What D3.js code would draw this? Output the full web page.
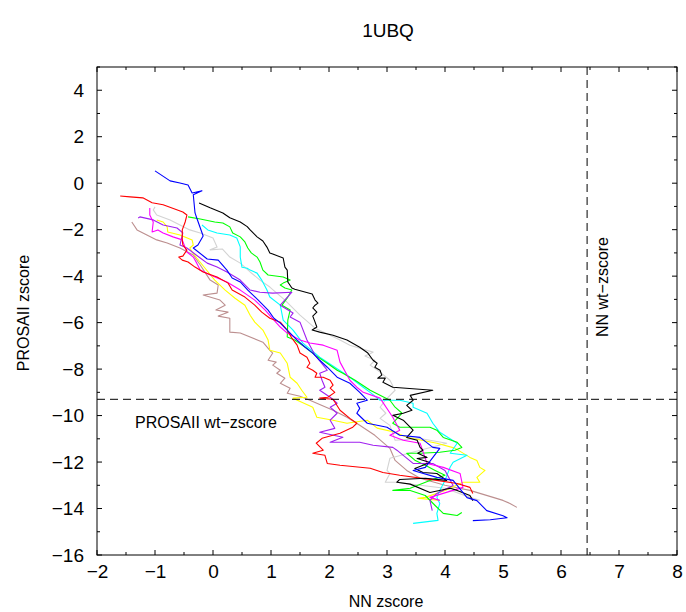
<!DOCTYPE html>
<html>
<head>
<meta charset="utf-8">
<script src="https://cdn.jsdelivr.net/npm/d3@7"></script>
<style>
  html, body { margin: 0; padding: 0; background: #fff; }
  svg { display: block; font-family: "Liberation Sans", Arial, sans-serif; }
</style>
</head>
<body>
<svg id="chart" width="686" height="612"></svg>
<script>
// ---- Data (NN zscore = x, PROSAII zscore = y) ----
const titleText = "1UBQ";
const xTicks = [-2, -1, 0, 1, 2, 3, 4, 5, 6, 7, 8];
const yTicks = [-16, -14, -12, -10, -8, -6, -4, -2, 0, 2, 4];
const nnWtZscore = 6.45;
const prosaWtZscore = -9.3;

const seriesNames = ["rosybrown", "lightgray", "yellow", "cyan", "green", "purple", "magenta", "red", "black", "blue"];
const seriesColors = ["#bc8f8f", "#d3d3d3", "#ffff00", "#00ffff", "#00ff00", "#a020f0", "#ff00ff", "#ff0000", "#000000", "#0000ff"];

const brownX = [-1.40,-1.31,-1.14,-0.97,-0.79,-0.57,-0.34,-0.22,-0.05,0.09,0.07,-0.17,0.12,0.21,0.05,0.26,0.09,0.29,0.29,0.47,0.86,0.98,1.03,0.95,1.09,1.03,1.16,1.10,1.24,1.16,1.33,1.28,1.50,1.67,2.07,2.31,2.53,2.79,3.05,3.14,3.34,3.57,4.00,4.43,4.83,5.00,5.12,5.24];
const brownY = [-1.67,-2.01,-2.23,-2.44,-2.57,-2.79,-3.09,-3.52,-4.17,-4.38,-4.73,-4.81,-5.03,-5.25,-5.46,-5.55,-5.72,-5.81,-6.41,-6.45,-6.84,-7.19,-7.31,-7.62,-7.70,-7.83,-8.05,-8.18,-8.39,-8.61,-8.82,-9.04,-9.17,-9.34,-9.77,-10.07,-10.42,-10.85,-11.41,-11.93,-12.36,-12.70,-13.00,-13.22,-13.52,-13.65,-13.78,-13.95];

const grayX = [-1.00,-1.03,-0.97,-0.74,-0.57,-0.40,-0.22,0.00,0.07,-0.05,0.16,0.29,0.47,0.64,0.81,0.98,1.24,1.50,1.76,2.02,2.19,2.36,2.53,2.76,2.62,2.79,2.71,2.88,3.05,3.14,2.97,2.88,2.98,2.88,3.05,3.14,3.57,4.03,3.57,3.05,3.00,3.05,2.97,3.17,3.57,4.00,4.43,4.60];
const grayY = [-1.02,-1.15,-1.37,-1.58,-1.80,-2.01,-2.14,-2.36,-2.75,-2.87,-2.83,-3.18,-3.44,-3.82,-4.17,-4.47,-5.03,-5.68,-6.24,-6.54,-6.75,-6.97,-7.10,-7.27,-7.44,-7.62,-7.83,-8.13,-8.48,-8.91,-9.34,-9.64,-9.90,-10.12,-10.42,-11.06,-10.99,-11.19,-11.49,-11.84,-12.36,-12.49,-12.87,-12.87,-13.00,-13.13,-13.52,-13.65];

const yellowX = [-0.97,-0.86,-0.79,-0.78,-0.57,-0.36,-0.34,-0.40,-0.36,-0.28,-0.14,0.03,0.21,0.38,0.55,0.64,0.72,0.86,0.95,0.98,1.16,1.28,1.33,1.45,1.53,1.62,1.38,1.72,1.79,2.07,2.31,2.66,2.83,3.14,3.34,3.86,4.17,4.43,4.55,4.60,4.69,4.55,4.60,4.31,4.00,3.66,3.53,3.91];
const yellowY = [-1.58,-1.67,-1.88,-2.10,-2.23,-2.44,-2.66,-2.79,-2.96,-3.22,-3.65,-4.17,-4.60,-4.95,-5.25,-5.68,-5.98,-6.32,-6.75,-7.19,-7.31,-7.75,-8.35,-8.61,-8.91,-9.21,-9.25,-9.64,-10.07,-10.20,-10.33,-10.20,-10.54,-10.72,-10.93,-11.19,-11.40,-11.80,-11.93,-12.23,-12.36,-12.66,-12.87,-12.87,-13.22,-13.52,-13.56,-13.65];

const cyanX = [-0.19,-0.09,0.07,0.29,0.41,0.47,0.47,0.50,0.59,0.64,0.76,0.84,0.93,0.98,1.16,1.21,1.38,1.55,1.84,2.10,2.36,2.59,2.71,2.88,3.10,3.22,3.45,3.45,3.69,3.79,3.91,4.21,4.09,4.38,4.14,4.09,4.00,3.91,3.86,3.91,3.86,3.88,3.45];
const cyanY = [-1.80,-2.01,-2.14,-2.23,-2.36,-2.74,-3.18,-3.62,-3.66,-3.74,-3.87,-4.17,-4.60,-4.90,-5.25,-5.89,-6.32,-6.88,-7.49,-7.92,-8.35,-8.78,-9.00,-9.34,-9.34,-9.34,-9.47,-9.64,-9.90,-10.33,-10.72,-11.19,-11.62,-11.71,-12.01,-12.21,-12.79,-13.22,-13.52,-13.78,-14.21,-14.51,-14.64];

const greenX = [-0.43,-0.22,0.03,0.17,0.29,0.34,0.47,0.55,0.60,0.66,0.76,0.81,0.86,0.95,1.21,1.33,1.21,1.16,1.24,1.36,1.29,1.19,1.33,1.29,1.28,1.41,1.59,1.76,1.97,2.14,2.24,2.45,2.71,3.05,3.14,3.26,3.10,3.22,3.45,3.74,3.86,3.97,4.21,4.29,4.17,3.91,3.57,3.34,3.48,3.66,3.83,4.00,3.74,3.40,3.10,3.40,3.66,3.83,3.97,4.21,4.29];
const greenY = [-1.45,-1.54,-1.67,-1.71,-1.88,-2.14,-2.31,-2.53,-2.79,-3.00,-3.18,-3.39,-3.74,-3.95,-4.04,-4.17,-4.30,-4.38,-4.51,-4.60,-4.90,-5.25,-5.46,-5.89,-6.62,-6.75,-7.06,-7.40,-7.75,-8.05,-8.18,-8.48,-8.91,-9.34,-9.64,-9.90,-10.33,-10.50,-10.50,-10.50,-10.63,-10.94,-11.15,-11.37,-11.49,-11.58,-11.62,-11.62,-11.92,-12.14,-12.36,-12.57,-12.79,-13.13,-13.22,-13.22,-13.44,-13.87,-14.21,-14.30,-14.17];

const purpleX = [-1.29,-1.26,-1.03,-0.86,-0.62,-0.52,-0.57,-0.45,-0.22,-0.10,0.07,0.24,0.47,0.64,0.81,1.03,1.36,1.16,1.38,1.33,1.50,1.62,1.76,1.97,1.84,1.88,1.93,1.84,2.02,2.14,2.02,2.14,2.02,2.10,1.84,2.24,2.02,2.53,2.76,3.10,3.17,3.45,3.79,4.00,4.14,3.86,3.74,3.78];
const purpleY = [-1.50,-1.45,-1.58,-1.80,-1.93,-2.14,-2.66,-2.79,-3.22,-3.44,-3.61,-3.82,-4.17,-4.60,-4.69,-4.73,-4.69,-5.25,-5.59,-5.76,-5.98,-6.75,-7.40,-8.05,-8.18,-8.48,-8.78,-8.91,-9.21,-9.47,-9.64,-9.90,-10.20,-10.55,-10.72,-10.93,-11.15,-11.15,-11.28,-11.37,-11.49,-12.06,-12.06,-12.36,-13.01,-13.35,-13.65,-14.09];

const magentaX = [-1.09,-1.09,-1.03,-1.05,-0.95,-0.86,-0.69,-0.53,-0.45,-0.34,-0.28,-0.22,-0.05,0.24,0.47,0.72,0.90,1.02,1.16,1.28,1.50,1.67,1.90,2.14,2.19,2.36,2.48,2.59,2.88,3.10,3.22,3.05,3.28,3.57,3.69,3.97,4.26,4.31,3.74,3.91];
const magentaY = [-1.07,-1.37,-1.67,-2.10,-2.01,-2.14,-2.31,-2.44,-2.96,-3.18,-3.44,-3.74,-3.95,-4.25,-4.60,-5.03,-5.46,-5.81,-6.19,-6.45,-6.75,-6.88,-6.97,-7.19,-7.70,-8.48,-8.78,-9.00,-9.25,-10.07,-10.63,-10.85,-11.06,-11.19,-12.06,-12.23,-12.49,-13.09,-13.52,-13.65];

const redX = [-1.60,-1.43,-1.21,-1.05,-0.86,-0.52,-0.45,-0.48,-0.53,-0.53,-0.52,-0.45,-0.52,-0.59,-0.53,-0.43,-0.31,-0.17,0.07,0.26,0.33,0.55,0.72,0.84,0.98,1.16,1.28,1.36,1.45,1.50,1.62,1.67,1.62,1.72,1.79,1.76,1.90,2.02,2.07,2.02,2.10,1.98,1.84,2.07,2.19,2.36,2.48,2.41,2.19,1.88,1.78,1.90,1.72,1.93,1.97,2.19,2.71,2.93,3.22,3.86,4.21,4.43,4.48];
const redY = [-0.55,-0.59,-0.63,-0.84,-0.93,-1.24,-1.37,-1.67,-2.01,-2.45,-2.66,-2.88,-3.14,-3.18,-3.31,-3.39,-3.61,-3.82,-4.04,-4.30,-4.60,-4.90,-5.25,-5.55,-5.81,-5.98,-6.32,-6.67,-6.97,-7.31,-7.49,-7.75,-7.92,-8.05,-8.18,-8.35,-8.35,-8.48,-8.69,-8.82,-9.00,-9.21,-9.25,-9.30,-9.77,-10.12,-10.33,-10.50,-10.76,-10.98,-11.19,-11.49,-11.62,-11.71,-12.06,-12.14,-12.27,-12.45,-12.57,-12.79,-12.92,-13.09,-13.35];

const blackX = [-0.24,-0.05,0.17,0.29,0.47,0.59,0.64,0.76,0.86,0.93,0.98,1.03,1.21,1.24,1.28,1.29,1.36,1.41,1.71,1.76,1.81,1.76,1.72,1.79,1.72,1.76,1.79,1.71,1.84,2.07,2.31,2.53,2.67,2.76,2.83,2.79,2.88,2.91,2.84,2.97,2.93,3.10,3.79,3.40,3.45,3.34,3.43,3.28,3.10,3.28,3.45,3.34,3.52,3.57,3.62,3.53,3.69,3.52,3.74,3.48,3.62,3.86,4.03,3.66,3.22,3.17,3.40,3.74,4.09,4.21,4.43,4.48];
const blackY = [-0.85,-1.06,-1.28,-1.49,-1.67,-1.87,-2.01,-2.31,-2.49,-2.75,-3.00,-3.05,-3.22,-3.61,-3.74,-4.25,-4.51,-4.56,-4.77,-5.03,-5.16,-5.25,-5.37,-5.55,-5.72,-5.98,-6.19,-6.32,-6.41,-6.54,-6.75,-7.06,-7.31,-7.62,-7.75,-7.92,-8.05,-8.26,-8.39,-8.39,-8.57,-8.78,-8.91,-9.13,-9.34,-9.56,-9.77,-9.90,-9.99,-10.20,-10.63,-10.94,-11.06,-11.37,-11.49,-11.62,-11.80,-11.85,-12.02,-12.28,-12.45,-12.49,-12.79,-12.70,-12.75,-12.87,-12.95,-13.31,-13.13,-13.22,-13.44,-13.66];

const blueX = [-1.00,-0.74,-0.57,-0.43,-0.36,-0.19,-0.34,-0.31,-0.28,-0.17,-0.26,-0.34,-0.10,0.09,0.24,0.33,0.47,0.60,0.78,0.95,1.05,1.16,1.33,1.45,1.59,1.72,1.84,1.97,2.14,2.36,2.53,2.66,2.48,2.53,2.48,2.66,3.00,3.22,3.57,3.79,3.91,3.66,3.45,3.86,4.14,4.38,4.55,4.72,5.00,5.07,4.78,4.48];
const blueY = [0.53,0.10,0.01,-0.08,-0.42,-0.33,-0.50,-1.28,-1.50,-2.27,-2.66,-2.79,-3.26,-3.31,-3.74,-4.08,-4.25,-4.60,-5.03,-5.46,-5.81,-6.02,-6.45,-6.75,-7.06,-7.31,-7.62,-7.92,-8.35,-8.61,-9.00,-9.34,-9.47,-9.69,-9.90,-10.33,-10.50,-10.85,-10.94,-11.37,-11.41,-12.23,-12.36,-12.66,-12.79,-13.53,-13.66,-14.09,-14.31,-14.40,-14.48,-14.52];

const seriesX = [brownX, grayX, yellowX, cyanX, greenX, purpleX, magentaX, redX, blackX, blueX];
const seriesY = [brownY, grayY, yellowY, cyanY, greenY, purpleY, magentaY, redY, blackY, blueY];

// ---- Layout ----
const W = 686, H = 612;
const margin = { left: 97, right: 9, top: 67, bottom: 57 };
const innerW = W - margin.left - margin.right;
const innerH = H - margin.top - margin.bottom;

const svg = d3.select("#chart");
const x = d3.scaleLinear().domain([-2, 8]).range([margin.left, margin.left + innerW]);
const y = d3.scaleLinear().domain([-16, 5]).range([margin.top + innerH, margin.top]);

const defs = svg.append("defs");
defs.append("clipPath").attr("id", "clip")
  .append("rect").attr("x", margin.left).attr("y", margin.top).attr("width", innerW).attr("height", innerH);

// Title
svg.append("text").attr("x", 388).attr("y", 37).attr("text-anchor", "middle")
  .attr("font-size", 19).attr("fill", "#000").text(titleText);

// Lines
const lineGen = d3.line().x(d => x(d[0])).y(d => y(d[1]));
const gLines = svg.append("g").attr("clip-path", "url(#clip)");
seriesX.forEach((xs, i) => {
  const pts = xs.map((v, j) => [v, seriesY[i][j]]);
  gLines.append("path").datum(pts)
    .attr("d", lineGen)
    .attr("fill", "none")
    .attr("stroke", seriesColors[i])
    .attr("stroke-width", 1.1)
    .attr("stroke-linejoin", "round");
});

// Reference dashed lines
svg.append("line")
  .attr("x1", x(-2)).attr("x2", x(8)).attr("y1", y(prosaWtZscore)).attr("y2", y(prosaWtZscore))
  .attr("stroke", "#000").attr("stroke-width", 1).attr("stroke-dasharray", "8,5");
svg.append("line")
  .attr("x1", x(nnWtZscore)).attr("x2", x(nnWtZscore)).attr("y1", y(5)).attr("y2", y(-16))
  .attr("stroke", "#000").attr("stroke-width", 1).attr("stroke-dasharray", "8,5");

svg.append("text").attr("x", 135).attr("y", y(prosaWtZscore) + 29)
  .attr("font-size", 16).attr("fill", "#000").text("PROSAII wt\u2212zscore");
svg.append("text")
  .attr("transform", `translate(${x(nnWtZscore) + 21},${287}) rotate(-90)`)
  .attr("text-anchor", "middle").attr("font-size", 16).attr("fill", "#000").text("NN wt\u2212zscore");

// Axes (ticks inward on all four sides)
const fmt = d => (d < 0 ? "\u2212" + Math.abs(d) : String(d));
const xMinor = d3.range(-2, 8.01, 0.5);
const yMinor = d3.range(-16, 5.01, 1);

const bottom = svg.append("g").attr("transform", `translate(0,${margin.top + innerH})`)
  .call(d3.axisBottom(x).tickValues(xTicks).tickSize(0).tickPadding(10).tickFormat(fmt));
bottom.select(".domain").remove();
bottom.selectAll("text").attr("font-size", 19).attr("font-family", "Liberation Sans, Arial, sans-serif").attr("fill", "#000");

const left = svg.append("g").attr("transform", `translate(${margin.left},0)`)
  .call(d3.axisLeft(y).tickValues(yTicks).tickSize(0).tickPadding(13).tickFormat(fmt));
left.select(".domain").remove();
left.selectAll("text").attr("font-size", 19).attr("font-family", "Liberation Sans, Arial, sans-serif").attr("fill", "#000");

const tickG = svg.append("g").attr("stroke", "#000").attr("stroke-width", 1);
xMinor.forEach(v => {
  const major = Math.abs(v - Math.round(v)) < 1e-6;
  const len = major ? 5 : 3;
  tickG.append("line").attr("x1", x(v)).attr("x2", x(v)).attr("y1", y(-16)).attr("y2", y(-16) - len);
  tickG.append("line").attr("x1", x(v)).attr("x2", x(v)).attr("y1", y(5)).attr("y2", y(5) + len);
});
yMinor.forEach(v => {
  const major = Math.abs(v % 2) < 1e-6;
  const len = major ? 5 : 3;
  tickG.append("line").attr("x1", x(-2)).attr("x2", x(-2) + len).attr("y1", y(v)).attr("y2", y(v));
  tickG.append("line").attr("x1", x(8)).attr("x2", x(8) - len).attr("y1", y(v)).attr("y2", y(v));
});

// Frame
svg.append("rect").attr("x", margin.left).attr("y", margin.top).attr("width", innerW).attr("height", innerH)
  .attr("fill", "none").attr("stroke", "#000").attr("stroke-width", 1);

// Axis labels
svg.append("text").attr("x", margin.left + innerW / 2 - 1).attr("y", 607).attr("text-anchor", "middle")
  .attr("font-size", 16).attr("fill", "#000").text("NN zscore");
svg.append("text").attr("transform", `translate(29,${313}) rotate(-90)`).attr("text-anchor", "middle")
  .attr("font-size", 16).attr("fill", "#000").text("PROSAII zscore");
</script>
</body>
</html>
